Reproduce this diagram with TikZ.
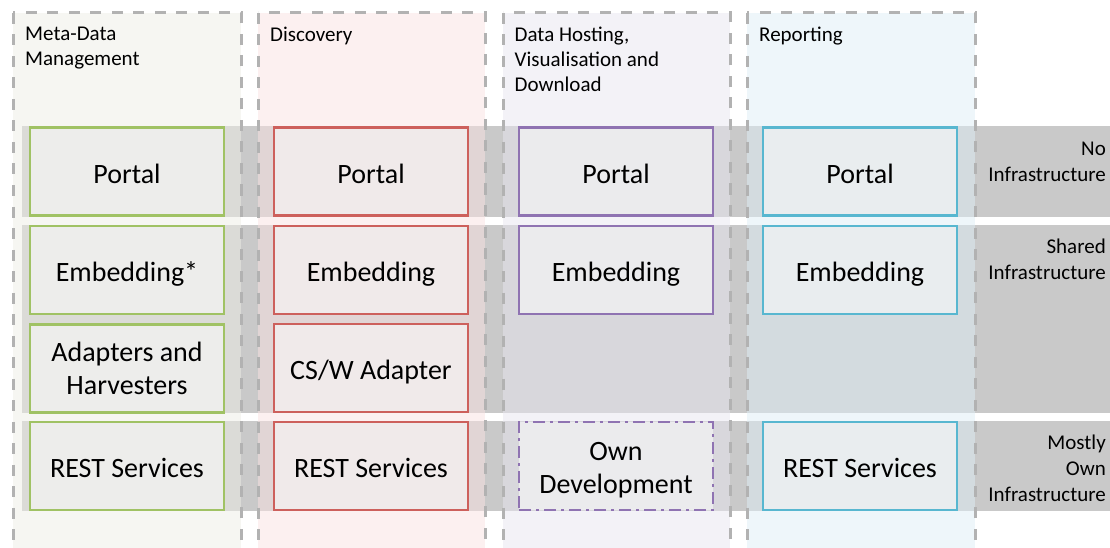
\documentclass[tikz,border=0pt]{standalone}
\usepackage{fontspec}
\setmainfont{Carlito}
\definecolor{bandgray}{HTML}{C9C9C9}
\definecolor{dashgray}{HTML}{B2B2B2}
\definecolor{cAfill}{RGB}{237,237,229}
\definecolor{cBfill}{RGB}{249,225,225}
\definecolor{cCfill}{RGB}{231,229,239}
\definecolor{cDfill}{RGB}{221,237,245}
\definecolor{cAline}{RGB}{160,194,100}
\definecolor{cBline}{RGB}{205,96,92}
\definecolor{cCline}{RGB}{143,115,178}
\definecolor{cDline}{RGB}{88,183,208}
\begin{document}
\begin{tikzpicture}[x=1pt,y=-1pt,
  band/.style={fill=bandgray},
  colframe/.style={draw=dashgray, line width=3pt, dash pattern=on 11pt off 10.5pt},
  tile/.style={draw, line width=2.7pt, fill=white, fill opacity=0.5, text opacity=1,
    minimum width=194pt, minimum height=88pt, inner sep=0pt, align=center,
    font=\fontsize{28}{33}\selectfont},
  one/.style={text height=23pt, text depth=0pt},
  owndev/.style={dash pattern=on 12pt off 5pt on 3pt off 5pt},
  head/.style={anchor=north west, inner sep=0pt, align=left, font=\fontsize{21}{25}\selectfont},
  side/.style={anchor=north east, inner sep=0pt, align=right, font=\fontsize{21}{26}\selectfont}]
\useasboundingbox (0,0) rectangle (1110,548);
\clip (0,0) rectangle (1110,548);
% infrastructure bands
\fill[band] (22,126.5) rectangle (1110,217);
\fill[band] (22,224.7) rectangle (1110,413.3);
\fill[band] (22,421) rectangle (1110,511.3);
% columns
\fill[cAfill, opacity=0.5] (13,13) rectangle (241,560);
\fill[cBfill, opacity=0.5] (258,13) rectangle (485,560);
\fill[cCfill, opacity=0.5] (503,13) rectangle (730,560);
\fill[cDfill, opacity=0.5] (747,13) rectangle (975,560);
\draw[colframe] (13,13) rectangle (241,560);
\draw[colframe] (258,13) rectangle (485,560);
\draw[colframe] (503,13) rectangle (730,560);
\draw[colframe] (747,13) rectangle (975,560);
% headers
\node[head] (hA) at (25,26.5) {Meta-Data\\Management};
\node[head] (hB) at (270,26.5) {Discovery};
\node[head] (hC) at (514.5,26.5) {Data Hosting,\\Visualisation and\\Download};
\node[head] (hD) at (759,26.5) {Reporting};
% column A
\node[tile, one, draw=cAline] (aPortal) at (127,171.5) {Portal};
\node[tile, one, draw=cAline] (aEmbed) at (127,270) {Embedding*};
\node[tile, draw=cAline] (aAdapt) at (127,368.5) {Adapters and\\Harvesters};
\node[tile, one, draw=cAline] (aRest) at (127,466) {REST Services};
% column B
\node[tile, one, draw=cBline] (bPortal) at (371,171.5) {Portal};
\node[tile, one, draw=cBline] (bEmbed) at (371,270) {Embedding};
\node[tile, one, draw=cBline] (bAdapt) at (371,368) {CS/W Adapter};
\node[tile, one, draw=cBline] (bRest) at (371,466) {REST Services};
% column C
\node[tile, one, draw=cCline] (cPortal) at (616,171.5) {Portal};
\node[tile, one, draw=cCline] (cEmbed) at (616,270) {Embedding};
\node[tile, owndev, draw=cCline] (cOwn) at (616,466) {\rule{0pt}{27pt}Own\\Development};
% column D
\node[tile, one, draw=cDline] (dPortal) at (860,171.5) {Portal};
\node[tile, one, draw=cDline] (dEmbed) at (860,270) {Embedding};
\node[tile, one, draw=cDline] (dRest) at (860,466) {REST Services};
% side labels
\node[side] (sNo) at (1106,141.7) {No\\Infrastructure};
\node[side] (sShared) at (1106,239) {Shared\\Infrastructure};
\node[side] (sOwn) at (1106,434.5) {Mostly\\Own\\Infrastructure};
\end{tikzpicture}
\end{document}
